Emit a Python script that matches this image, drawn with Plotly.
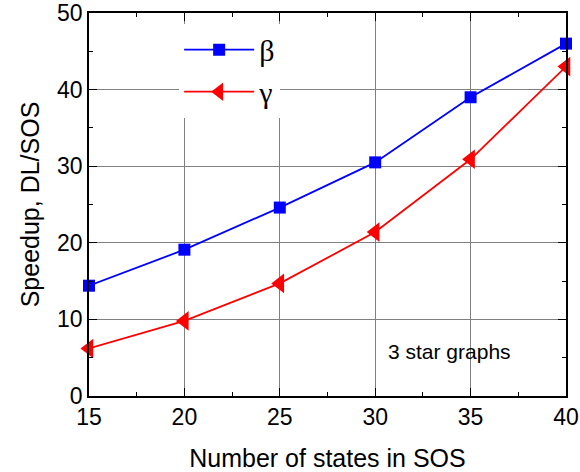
import plotly.graph_objects as go

states = [15, 20, 25, 30, 35, 40]
beta = [14.4, 19.1, 24.6, 30.5, 39.0, 46.0]
gamma = [6.2, 9.8, 14.7, 21.4, 30.9, 43.0]

fig = go.Figure()
fig.add_trace(go.Scatter(x=states, y=beta, name="β", mode="lines+markers",
                         line=dict(color="#0000ff", width=1.8),
                         marker=dict(symbol="square", size=12, color="#0000ff"),
                         cliponaxis=False))
fig.add_trace(go.Scatter(x=states, y=gamma, name="γ", mode="lines+markers",
                         line=dict(color="#ff0000", width=1.8),
                         marker=dict(symbol="triangle-left", size=17, color="#ff0000"),
                         cliponaxis=False))

axis_common = dict(showline=True, linecolor="black", linewidth=1.5, mirror="ticks",
                   ticks="inside", ticklen=8, tickwidth=1.2, tickcolor="black",
                   showgrid=True, gridcolor="#808080", gridwidth=1, zeroline=False,
                   automargin=False, ticklabeloverflow="allow",
                   tickfont=dict(family="Liberation Sans, Arial", size=23, color="black"),
                   title_font=dict(family="Liberation Sans, Arial", size=25, color="black"))

fig.update_xaxes(range=[15, 40], dtick=5, tick0=15,
                 minor=dict(dtick=2.5, ticks="inside", ticklen=4, tickcolor="black", showgrid=False),
                 title_text="Number of states in SOS", title_standoff=20, **axis_common)
fig.update_yaxes(range=[0, 50], dtick=10,
                 minor=dict(dtick=5, ticks="inside", ticklen=4, tickcolor="black", showgrid=False),
                 title_text="Speedup, DL/SOS", title_standoff=10, **axis_common)

fig.add_annotation(text="3 star graphs", x=33.9, y=5.8, xref="x", yref="y",
                   showarrow=False, font=dict(family="Liberation Sans, Arial", size=21, color="black"))

fig.update_layout(
    width=580, height=472,
    margin=dict(l=89, r=14, t=13, b=76),
    plot_bgcolor="white", paper_bgcolor="white",
    showlegend=True,
    legend=dict(x=0.189, y=0.972, xanchor="left", yanchor="top",
                bgcolor="white", borderwidth=0, itemwidth=70,
                font=dict(family="Liberation Serif, Times New Roman", size=30, color="black"),
                tracegroupgap=7),
)

# remove the default 8px page margin so the 580x472 figure fills the window
fig.write_html("out.html", config={"displayModeBar": False},
               post_script="document.body.style.margin='0';")
